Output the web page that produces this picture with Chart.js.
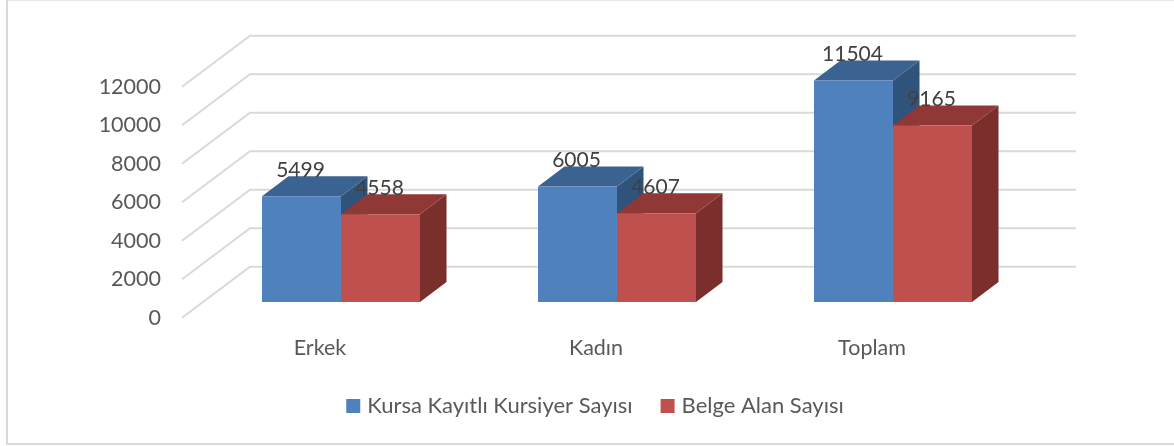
<!DOCTYPE html>
<html>
<head>
<meta charset="utf-8">
<script src="https://cdn.jsdelivr.net/npm/chart.js@4"></script>
<style>
    html, body { margin: 0; padding: 0; background: #fff; overflow: hidden; }
    #wrap { width: 1174px; height: 446px; position: relative; overflow: hidden; }
    #frame { position: absolute; left: 6px; top: 0; width: 1200px; height: 442px; border-left: 2px solid #d9d9d9; border-top: 1px solid #e6e6e6; border-bottom: 2px solid #d9d9d9; }
</style>
</head>
<body>
<div id="wrap">
    <div id="frame"></div>
    <canvas id="kursChart" width="1174" height="446" style="position:relative"></canvas>
</div>
<script>
const categories = ["Erkek", "Kadın", "Toplam"];
const kayitli = [5499, 6005, 11504];
const belge = [4558, 4607, 9165];

const FONT = "Lato";
const FONT_SIZE = 21.5;

// how far the walls sit from the plane of the bar fronts
const wall = { frontX: -21, frontY: 15.7, backX: 47, backY: -35.3, rightEnd: 1076 };
const depth = { x: 26.5, y: -20 };
const faces = [
    { top: "#3b6391", side: "#30537b" },
    { top: "#8f3836", side: "#7b2f2d" }
];

function poly(ctx, pts, color) {
    ctx.fillStyle = color;
    ctx.beginPath();
    pts.forEach((p, i) => i ? ctx.lineTo(p[0], p[1]) : ctx.moveTo(p[0], p[1]));
    ctx.closePath();
    ctx.fill();
}

const walls3d = {
    id: "walls3d",
    beforeDatasetsDraw(chart) {
        const ctx = chart.ctx;
        const y = chart.scales.y;
        const left = chart.chartArea.left;

        ctx.save();
        ctx.strokeStyle = "#d9d9d9";
        ctx.lineWidth = 2;
        y.ticks.forEach(t => {
            const py = y.getPixelForValue(t.value);
            ctx.beginPath();
            ctx.moveTo(left + wall.frontX, py + wall.frontY);
            ctx.lineTo(left + wall.backX, py + wall.backY);
            ctx.lineTo(wall.rightEnd, py + wall.backY);
            ctx.stroke();
        });

        chart.data.datasets.forEach((ds, i) => {
            chart.getDatasetMeta(i).data.forEach(bar => {
                const l = bar.x - bar.width / 2;
                const r = bar.x + bar.width / 2;
                poly(ctx, [[r, bar.y], [r + depth.x, bar.y + depth.y], [r + depth.x, bar.base + depth.y], [r, bar.base]], faces[i].side);
                poly(ctx, [[l, bar.y], [l + depth.x, bar.y + depth.y], [r + depth.x, bar.y + depth.y], [r, bar.y]], faces[i].top);
            });
        });
        ctx.restore();
    },
    afterDatasetsDraw(chart) {
        const ctx = chart.ctx;
        ctx.save();
        ctx.fillStyle = "#404040";
        ctx.font = "21px " + FONT;
        ctx.textAlign = "center";
        ctx.textBaseline = "middle";
        chart.data.datasets.forEach((ds, i) => {
            chart.getDatasetMeta(i).data.forEach((bar, j) => {
                ctx.fillText(ds.data[j], bar.x - 1, bar.y - 26);
            });
        });
        ctx.restore();
    }
};

new Chart(document.getElementById("kursChart"), {
    type: "bar",
    data: {
        labels: categories,
        datasets: [
            { label: "Kursa Kayıtlı Kursiyer Sayısı", data: kayitli, backgroundColor: "#4f81bd", pointStyle: "rect" },
            { label: "Belge Alan Sayısı", data: belge, backgroundColor: "#c0504d", pointStyle: "rect" }
        ]
    },
    options: {
        responsive: false,
        animation: false,
        layout: { padding: { left: 74, right: 54, top: 71, bottom: 19 } },
        datasets: { bar: { categoryPercentage: 158 / 276, barPercentage: 1 } },
        plugins: {
            tooltip: { enabled: false },
            legend: {
                position: "bottom",
                labels: {
                    color: "#595959",
                    font: { family: FONT, size: 22 },
                    usePointStyle: true,
                    boxWidth: 6,
                    boxHeight: 14,
                    padding: 32
                }
            }
        },
        scales: {
            x: {
                grid: { display: false },
                border: { display: false },
                ticks: { color: "#595959", font: { family: FONT, size: FONT_SIZE }, labelOffset: -21, padding: 25, maxRotation: 0 },
                afterFit(scale) { scale.height = 61; }
            },
            y: {
                min: 0,
                max: 12000,
                grid: { display: false },
                border: { display: false },
                ticks: { stepSize: 2000, color: "#595959", font: { family: FONT, size: FONT_SIZE }, labelOffset: 16, padding: 34, callback: v => String(v) },
                afterFit(scale) { scale.width = 129; }
            },
            // empty axis, only holds the space right of the plot
            spacer: {
                position: "right",
                grid: { display: false },
                border: { display: false },
                ticks: { display: false },
                afterFit(scale) { scale.width = 89; }
            }
        }
    },
    plugins: [walls3d]
});
</script>
</body>
</html>
